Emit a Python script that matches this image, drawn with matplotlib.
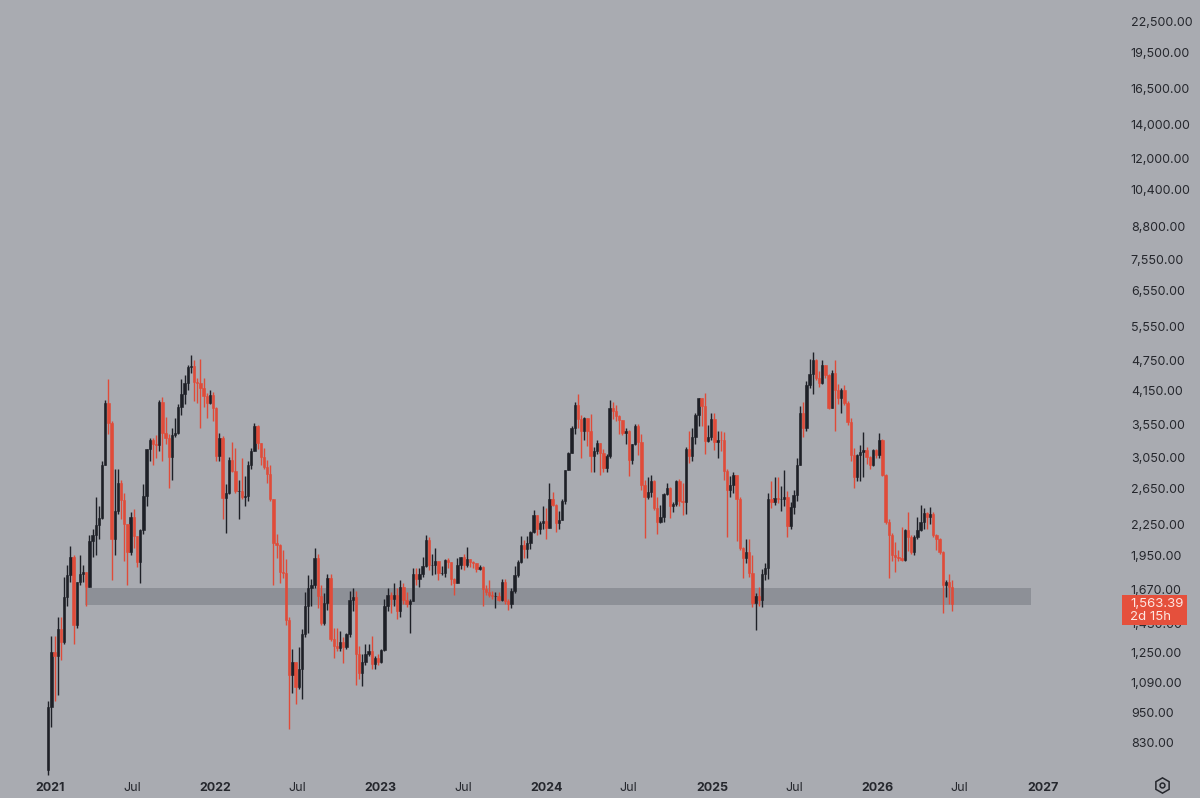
import matplotlib
matplotlib.use("Agg")
import matplotlib.pyplot as plt
import matplotlib.dates as mdates
from matplotlib.patches import Rectangle
import numpy as np
import pandas as pd

# weekly candles, first week starts 2020-12-28
first_week = "2020-12-28"
first_open = 730

closes_2021 = [975, 1255, 1230, 1390, 1315, 1610, 1780, 1935, 1415, 1725,
               1790, 1810, 1690, 2080, 2140, 2240, 2310, 2950, 3920, 3580,
               2100, 2390, 2720, 2510, 2250, 1980, 2320, 2130, 1895, 2190,
               2560, 3170, 3300, 3240, 3225, 3930, 3410, 3330, 3060, 3390,
               3420, 3850, 4080, 4290, 4610, 4630, 4320, 4300, 4200, 4040,
               3920, 4060, 3830]
highs_2021 = [1000, 1350, 1350, 1470, 1470, 1770, 1870, 2040, 1950, 1730,
              1950, 1870, 1810, 2140, 2200, 2550, 2450, 3000, 3970, 4380,
              3600, 2900, 2900, 2750, 2600, 2250, 2380, 2410, 2130, 2200,
              2700, 3180, 3330, 3330, 3380, 3980, 4020, 3670, 3400, 3490,
              3660, 3900, 4370, 4460, 4660, 4870, 4770, 4400, 4780, 4400,
              4100, 4150, 4120]
lows_2021 = [715, 890, 1000, 1030, 1210, 1300, 1550, 1730, 1300, 1400,
             1700, 1730, 1550, 1690, 1940, 1950, 2100, 2300, 2950, 3400,
             1740, 1950, 2360, 2300, 1900, 1700, 1950, 2020, 1850, 1720,
             2150, 2450, 3000, 2950, 3050, 3150, 3000, 3250, 2650, 2750,
             3350, 3400, 3700, 3900, 4150, 4500, 3960, 3920, 3500, 3850,
             3650, 3900, 3610]

closes_2022 = [3080, 3330, 2540, 2600, 3020, 2870, 2620, 2620, 2550, 2560,
               2950, 3140, 3520, 3260, 3060, 2920, 2830, 2520, 2060, 2045,
               1810, 1800, 1450, 1130, 1200, 1070, 1160, 1360, 1550, 1680,
               1700, 1930, 1620, 1430, 1570, 1760, 1330, 1290, 1275, 1310,
               1280, 1360, 1590, 1610, 1240, 1140, 1200, 1240, 1260, 1185,
               1220, 1200]
highs_2022 = [3850, 3420, 3370, 2700, 3060, 3280, 3190, 2750, 3040, 2800,
              3000, 3190, 3580, 3550, 3240, 3190, 3020, 2950, 2520, 2150,
              2050, 2000, 1920, 1470, 1270, 1200, 1280, 1390, 1650, 1780,
              1750, 2020, 1960, 1700, 1640, 1790, 1790, 1400, 1400, 1380,
              1340, 1370, 1660, 1680, 1660, 1290, 1240, 1300, 1300, 1350,
              1230, 1240]
lows_2022 = [3000, 3000, 2300, 2160, 2580, 2850, 2600, 2300, 2520, 2450,
             2500, 2890, 3140, 3180, 2950, 2890, 2710, 2500, 1700, 1930,
             1720, 1760, 1420, 880, 1040, 990, 1060, 1010, 1340, 1370,
             1550, 1680, 1530, 1420, 1420, 1520, 1320, 1220, 1260, 1260,
             1190, 1270, 1340, 1510, 1080, 1110, 1075, 1180, 1230, 1160,
             1160, 1180]

closes_2023 = [1265, 1550, 1630, 1600, 1630, 1510, 1690, 1590, 1560, 1580,
               1790, 1750, 1790, 1860, 2090, 1870, 1870, 1900, 1800, 1800,
               1910, 1890, 1750, 1720, 1870, 1940, 1870, 1920, 1890, 1880,
               1830, 1850, 1670, 1650, 1630, 1620, 1620, 1590, 1730, 1580,
               1560, 1660, 1780, 1890, 2045, 2010, 2060, 2170, 2350, 2200,
               2260, 2280]
highs_2023 = [1270, 1600, 1680, 1650, 1715, 1680, 1740, 1720, 1650, 1600,
              1840, 1840, 1840, 1940, 2140, 2120, 1960, 2020, 1900, 1860,
              1920, 1930, 1890, 1760, 1930, 1940, 1960, 2030, 1920, 1900,
              1880, 1870, 1860, 1700, 1745, 1660, 1650, 1650, 1750, 1750,
              1600, 1680, 1860, 1910, 2130, 2090, 2130, 2180, 2400, 2340,
              2280, 2440]
lows_2023 = [1190, 1260, 1510, 1500, 1550, 1460, 1470, 1560, 1540, 1370,
             1580, 1700, 1690, 1770, 1850, 1820, 1780, 1790, 1740, 1780,
             1770, 1840, 1700, 1625, 1720, 1830, 1820, 1850, 1850, 1840,
             1810, 1820, 1550, 1630, 1610, 1600, 1530, 1580, 1580, 1560,
             1520, 1530, 1640, 1770, 1880, 1930, 1930, 2010, 2160, 2140,
             2150, 2200]

closes_2024 = [2210, 2520, 2460, 2260, 2290, 2500, 2880, 3110, 3490, 3880,
               3640, 3450, 3650, 3450, 3080, 3150, 3260, 3110, 2910, 3070,
               3820, 3780, 3690, 3620, 3420, 3440, 3020, 3250, 3530, 3270,
               2690, 2550, 2610, 2740, 2420, 2270, 2320, 2580, 2660, 2440,
               2470, 2740, 2500, 2490, 3180, 3070, 3360, 3700, 4000, 3870,
               3290, 3360, 3640]
highs_2024 = [2420, 2720, 2610, 2470, 2390, 2530, 2880, 3130, 3520, 3940,
              4090, 3700, 3680, 3650, 3730, 3200, 3300, 3230, 3170, 3100,
              3970, 3930, 3880, 3700, 3630, 3490, 3460, 3250, 3560, 3560,
              3400, 2760, 2790, 2820, 2760, 2550, 2460, 2600, 2720, 2670,
              2490, 2760, 2770, 2720, 3200, 3450, 3500, 3740, 4000, 4000,
              4100, 3550, 3740]
lows_2024 = [2100, 2210, 2450, 2170, 2200, 2290, 2470, 2880, 3110, 3400,
             3500, 3050, 3300, 3220, 2850, 2850, 3100, 2820, 2860, 2860,
             3050, 3640, 3600, 3400, 3380, 3240, 2810, 2960, 3230, 3090,
             2630, 2110, 2530, 2550, 2400, 2150, 2260, 2270, 2570, 2310,
             2380, 2440, 2450, 2350, 2360, 2970, 3000, 3250, 3520, 3520,
             3100, 3270, 3300]

closes_2025 = [3270, 3310, 3300, 2870, 2630, 2690, 2820, 2520, 2020, 1930,
               1980, 1800, 1570, 1620, 1590, 1790, 1840, 2520, 2490, 2540,
               2520, 2520, 2550, 2230, 2430, 2570, 2950, 3750, 3490, 4260,
               4470, 4770, 4390, 4300, 4660, 4450, 3830, 4490, 4160, 4000,
               4160, 3920, 3590, 3090, 2790, 3090, 3130, 3160, 3060, 2950,
               3160]
highs_2025 = [3740, 3450, 3450, 3430, 2900, 2800, 2850, 2820, 2550, 2030,
              2100, 2100, 1950, 1640, 1690, 1830, 1880, 2600, 2740, 2790,
              2790, 2680, 2880, 2620, 2490, 2630, 3050, 3860, 3940, 4330,
              4790, 4950, 4800, 4530, 4770, 4660, 4470, 4560, 4770, 4280,
              4200, 4250, 3950, 3650, 3190, 3100, 3230, 3430, 3200, 3080,
              3180]
lows_2025 = [3160, 3050, 3140, 2750, 2120, 2550, 2600, 2080, 2000, 1760,
             1880, 1770, 1540, 1385, 1550, 1540, 1740, 1750, 2420, 2460,
             2480, 2390, 2440, 2120, 2200, 2360, 2500, 2950, 3360, 3450,
             4200, 4080, 4350, 4220, 4280, 4400, 3810, 3820, 3440, 3900,
             3740, 3880, 3550, 3000, 2650, 2740, 2740, 2790, 2960, 2900,
             2940]

closes_2026 = [3090, 3300, 2820, 2270, 2140, 1950, 1940, 1930, 1910, 2190,
               2120, 1980, 2120, 2190, 2270, 2370, 2330, 2360, 2140, 2100,
               1980, 1700, 1730, 1690, 1563.39]
highs_2026 = [3180, 3410, 3320, 2830, 2300, 2160, 2070, 2000, 2220, 2200,
              2380, 2140, 2140, 2330, 2460, 2420, 2380, 2430, 2380, 2150,
              2110, 1990, 1740, 1790, 1740]
lows_2026 = [3050, 3050, 2800, 2250, 1760, 1900, 1810, 1900, 1900, 1900,
             1990, 1960, 1950, 2100, 2180, 2200, 2200, 2250, 2120, 2000,
             1960, 1500, 1610, 1560, 1510]

# support zone
zone_low = 1553
zone_high = 1680
zone_start = "2021-03-19"
zone_end = "2026-12-06"

price_ticks = [830, 950, 1090, 1250, 1430, 1670, 1950, 2250, 2650, 3050,
               3550, 4150, 4750, 5550, 6550, 7550, 8800, 10400, 12000,
               14000, 16500, 19500, 22500]
last_price_text = "1,563.39"
countdown_text = "2d 15h"

closes = (closes_2021 + closes_2022 + closes_2023 + closes_2024
          + closes_2025 + closes_2026)
highs = highs_2021 + highs_2022 + highs_2023 + highs_2024 + highs_2025 + highs_2026
lows = lows_2021 + lows_2022 + lows_2023 + lows_2024 + lows_2025 + lows_2026
assert len(closes) == len(highs) == len(lows) == 286, (len(closes), len(highs), len(lows))

closes = np.array(closes, dtype=float)
opens = np.concatenate([[first_open], closes[:-1]])
highs = np.maximum(np.array(highs, dtype=float), np.maximum(opens, closes))
lows = np.minimum(np.array(lows, dtype=float), np.minimum(opens, closes))
dates = pd.date_range(first_week, periods=len(closes), freq="7D")
x = mdates.date2num(dates)

bg = "#a9abb1"
up_col = "#1e2027"
down_col = "#e04b39"
txt_col = "#25272d"

plt.rcParams['font.family'] = ['Inter', 'DejaVu Sans']

W, H = 1200, 798
fig = plt.figure(figsize=(W / 100, H / 100), dpi=100)
fig.patch.set_facecolor(bg)
ax = fig.add_axes([0, 22 / H, 1110 / W, 776 / H])
ax.set_facecolor(bg)

up = closes >= opens
for mask, col in [(up, up_col), (~up, down_col)]:
    ax.vlines(x[mask], lows[mask], highs[mask], color=col, lw=1.0, zorder=3)
    ax.bar(x[mask], np.abs(closes[mask] - opens[mask]),
           bottom=np.minimum(opens[mask], closes[mask]),
           width=5.2, color=col, edgecolor=col, linewidth=0.4, zorder=3)

z0 = mdates.date2num(pd.Timestamp(zone_start))
z1 = mdates.date2num(pd.Timestamp(zone_end))
ax.add_patch(Rectangle((z0, zone_low), z1 - z0, zone_high - zone_low,
                       facecolor="#8d9097", edgecolor="none", zorder=2))

ax.set_yscale("log")
ax.set_ylim(710.6, 24770)
t0 = mdates.date2num(pd.Timestamp("2021-01-01"))
ax.set_xlim(t0 - 110.3, t0 + 2339)

ax.yaxis.tick_right()
ax.set_yticks(price_ticks)
ax.set_yticklabels([f"{v:,.2f}" for v in price_ticks])
ax.yaxis.set_minor_locator(matplotlib.ticker.NullLocator())
ax.tick_params(axis="y", length=0, pad=15, labelsize=9, labelcolor=txt_col)

xt = []
xl = []
for yr in range(2021, 2028):
    xt.append(mdates.date2num(pd.Timestamp(f"{yr}-01-01")))
    xl.append(str(yr))
    if yr < 2027:
        xt.append(mdates.date2num(pd.Timestamp(f"{yr}-07-01")))
        xl.append("Jul")
ax.set_xticks(xt)
ax.set_xticklabels(xl)
ax.tick_params(axis="x", length=0, pad=4, labelsize=9, labelcolor=txt_col)
for lab in ax.get_xticklabels():
    if lab.get_text() != "Jul":
        lab.set_fontweight("bold")

for s in ax.spines.values():
    s.set_visible(False)

# overlay in figure pixels for the price tag and the settings icon
ov = fig.add_axes([0, 0, 1, 1], facecolor="none", zorder=5)
ov.set_xlim(0, W)
ov.set_ylim(H, 0)
ov.axis("off")

# last price tag, placed at the pixel row of the last close
py = H - ax.transData.transform((x[-1], closes[-1]))[1]
ov.add_patch(Rectangle((1122, py - 9), 65, 30, facecolor="#e5503c",
                       edgecolor="none", zorder=6))
ov.text(1130, py, last_price_text, ha="left", va="center", fontsize=9.5,
        color="#fde6e1", zorder=7)
ov.text(1130, py + 13, countdown_text, ha="left", va="center", fontsize=9.5,
        color="#fde6e1", zorder=7)

ov.plot([1162], [785], marker="h", markersize=11, markerfacecolor="none",
        markeredgecolor=txt_col, markeredgewidth=1.1)
ov.plot([1162], [785], marker="o", markersize=3.5, markerfacecolor="none",
        markeredgecolor=txt_col, markeredgewidth=1.1)

fig.savefig("out.png", dpi=100, facecolor=bg)
